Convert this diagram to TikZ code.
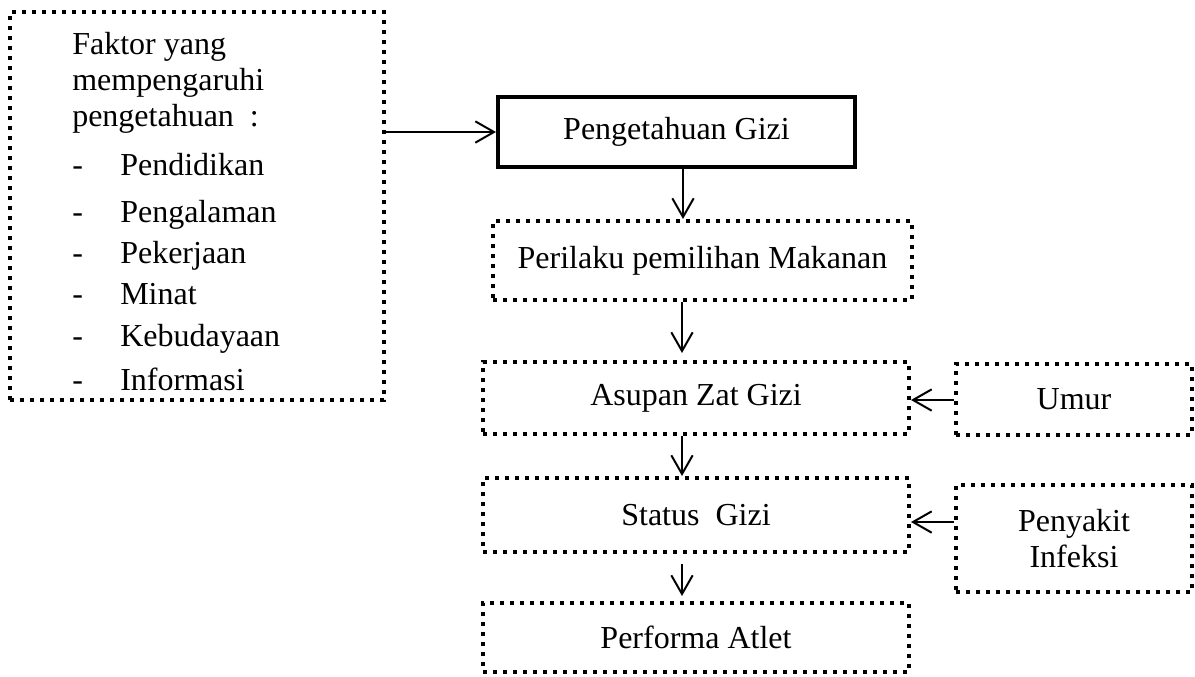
\documentclass[tikz,border=0pt]{standalone}
\usepackage{fontspec}
\setmainfont{Liberation Serif}
\usetikzlibrary{arrows.meta}
\begin{document}
\begin{tikzpicture}[x=0.75pt,y=-0.75pt,
  font=\fontsize{24}{27}\selectfont,
  dotbox/.style={draw, line width=3pt, dash pattern=on 3pt off 4.5pt, inner sep=0pt, align=center},
  solidbox/.style={draw, line width=3pt, inner sep=0pt, align=center},
  txt/.style={anchor=base west, inner sep=0pt},
  arr/.style={line width=1.5pt, -{Straight Barb[length=14pt,width=16pt,line width=1.5pt]}}]
\useasboundingbox (0,0) rectangle (1195,676);

% boxes
\node[dotbox, minimum width=280.5pt, minimum height=291pt] (L) at (197,206) {};
\node[solidbox, minimum width=267.75pt, minimum height=52.5pt] (PG) at (676.5,132) {Pengetahuan Gizi};
\node[dotbox, minimum width=314.25pt, minimum height=59.25pt] (PM) at (702.5,260.5) {Perilaku pemilihan Makanan};
\node[dotbox, minimum width=319.5pt, minimum height=54pt] (AZ) at (696,398) {Asupan Zat Gizi};
\node[dotbox, minimum width=177pt, minimum height=53.25pt] (UM) at (1074,399.5) {Umur};
\node[dotbox, minimum width=319.5pt, minimum height=55.5pt] (SG) at (696,515) {Status\ \ Gizi};
\node[dotbox, minimum width=177pt, minimum height=80.25pt] (PI) at (1074,538.5) {Penyakit\\Infeksi};
\node[dotbox, minimum width=319.5pt, minimum height=51.75pt] (PA) at (696,637.5) {Performa Atlet};

% left box text
\node[txt] (t1) at (72,54) {Faktor yang};
\node[txt] (t2) at (72,90) {mempengaruhi};
\node[txt] (t3) at (72,126) {pengetahuan\ \ :};
\foreach \y/\w [count=\i] in {175/Pendidikan,222/Pengalaman,263/Pekerjaan,304/Minat,346/Kebudayaan,390/Informasi}{
  \node[txt] (d\i) at (72,\y) {-};
  \node[txt] (i\i) at (120,\y) {\w};
}

% arrows
\coordinate (ax) at (683,0);
\coordinate (bx) at (682,0);
\draw[arr] (L.east |- PG.west) -- (PG.west);
\draw[arr] (PG.south -| ax) -- (PM.north -| ax);
\draw[arr, shorten >=7pt*0.75] (PM.south -| bx) -- (AZ.north -| bx);
\draw[arr] (AZ.south -| bx) -- (SG.north -| bx);
\draw[arr, shorten <=7.5pt, shorten >=3.75pt] (SG.south -| bx) -- (PA.north -| bx);
\draw[arr] (UM.west |- 0,400) -- (AZ.east |- 0,400);
\draw[arr] (PI.west |- 0,522) -- (SG.east |- 0,522);
\end{tikzpicture}
\end{document}
